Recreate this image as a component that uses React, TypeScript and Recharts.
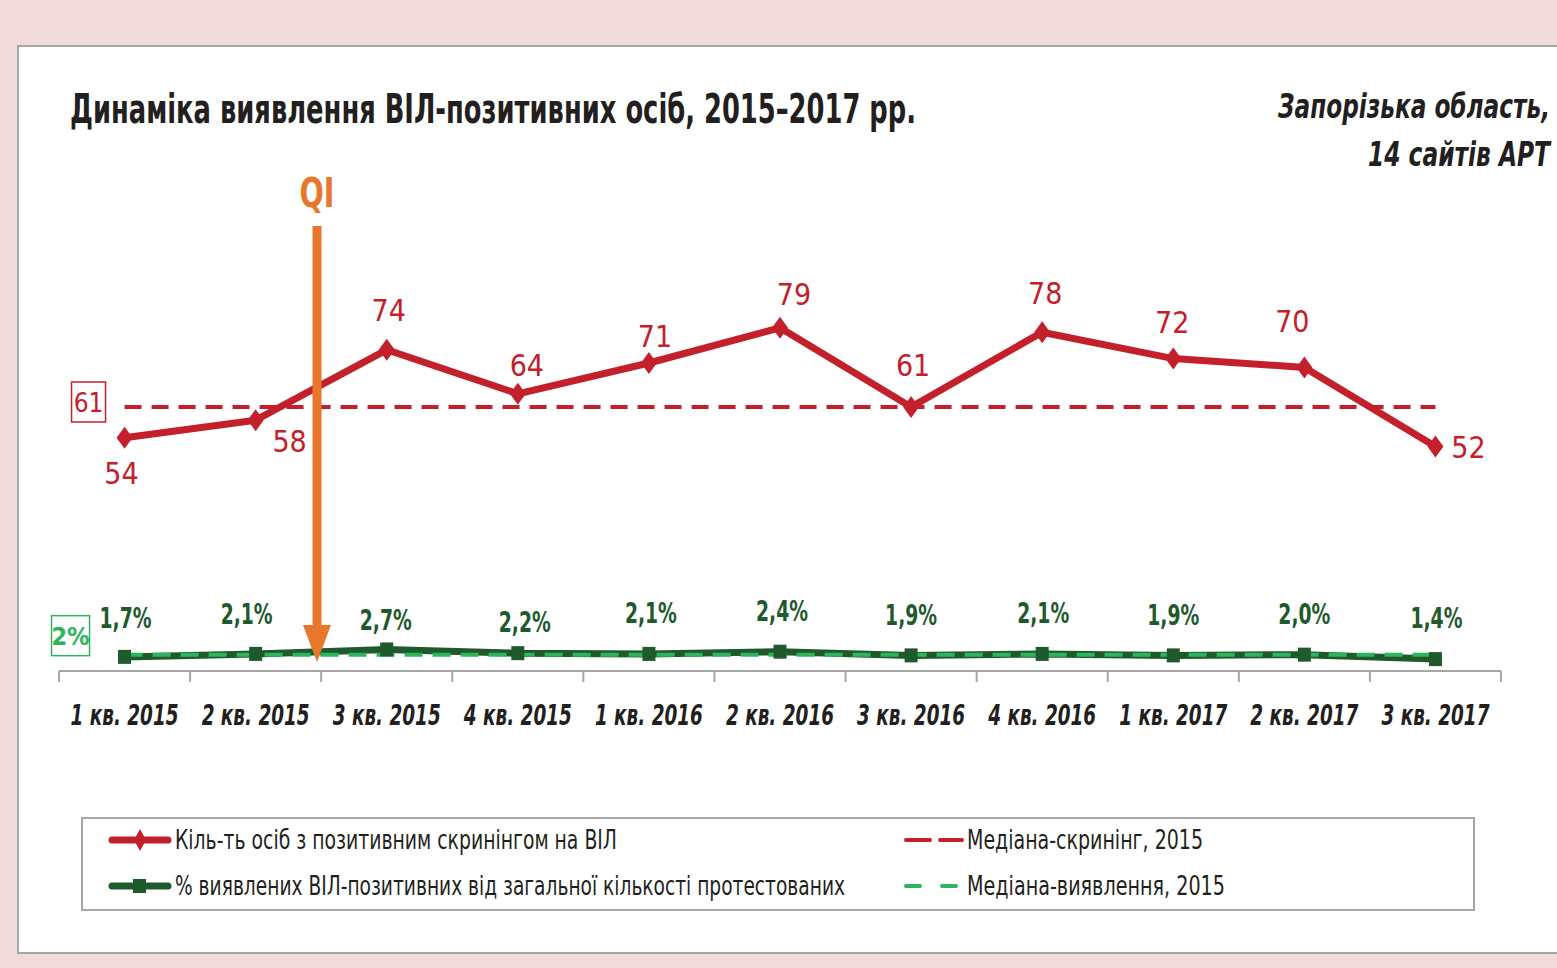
import React from "react";
import { ComposedChart, Line, XAxis, YAxis, LabelList } from "recharts";

const quarters = [
  "1 кв. 2015",
  "2 кв. 2015",
  "3 кв. 2015",
  "4 кв. 2015",
  "1 кв. 2016",
  "2 кв. 2016",
  "3 кв. 2016",
  "4 кв. 2016",
  "1 кв. 2017",
  "2 кв. 2017",
  "3 кв. 2017",
];
const screened = [54, 58, 74, 64, 71, 79, 61, 78, 72, 70, 52];
const detectedPct = [1.7, 2.1, 2.7, 2.2, 2.1, 2.4, 1.9, 2.1, 1.9, 2.0, 1.4];
const screenedMedian = 61;
const detectedMedian = 2;

const legendNames = [
  "Кіль-ть осіб з позитивним скринінгом на ВІЛ",
  "% виявлених ВІЛ-позитивних від загальної кількості протестованих",
  "Медіана-скринінг, 2015",
  "Медіана-виявлення, 2015",
];

const data = quarters.map((q, i) => ({
  quarter: q,
  screened: screened[i],
  pct: detectedPct[i],
  screenedMed: screenedMedian,
  pctMed: detectedMedian,
}));

// label placement, relative to point (label centre)
const redLabelOffset = [
  [-3, 36], [34, 21], [2, -39], [9, -28], [6, -27], [14, -33],
  [2, -42], [3, -39], [-1, -36], [-12, -46], [33, 1],
];
const greenLabelOffset = [
  [1, -39], [-9, -40], [-1, -29], [7, -31], [2, -41], [2, -41],
  [0, -40], [1, -41], [0, -40], [0, -41], [1, -41],
];

const RED = "#c4202b";
const DKGREEN = "#1e5a2c";
const LTGREEN = "#2db55d";
const ORANGE = "#e8762b";
const INK = "#231f20";
const FONT = "'Liberation Sans Narrow', 'DejaVu Sans Condensed', 'Arial Narrow', sans-serif";

const W = 1557;
const H = 968;
const M = { top: 231, right: 56, left: 59, bottom: 29 };
const XAXIS_H = 60;
const CH_H = 760;
const AXIS_Y = CH_H - M.bottom - XAXIS_H;
const BAND = (W - M.left - M.right) / quarters.length;

const Diamond = (p: any) => {
  const { cx, cy } = p;
  if (cx == null || cy == null) return null;
  return <polygon points={`${cx},${cy - 11} ${cx + 8},${cy} ${cx},${cy + 11} ${cx - 8},${cy}`} fill={RED} />;
};

const Square = (p: any) => {
  const { cx, cy } = p;
  if (cx == null || cy == null) return null;
  return <rect x={cx - 6.5} y={cy - 7} width={13} height={14} fill={DKGREEN} />;
};

const QuarterTick = (p: any) => {
  const { x, index, payload } = p;
  const last = index === quarters.length - 1;
  return (
    <g>
      <line x1={x - BAND / 2} x2={x - BAND / 2} y1={AXIS_Y} y2={AXIS_Y + 11} stroke="#a6a6a6" strokeWidth={2} />
      {last && <line x1={x + BAND / 2} x2={x + BAND / 2} y1={AXIS_Y} y2={AXIS_Y + 11} stroke="#a6a6a6" strokeWidth={2} />}
      <text
        x={x}
        y={AXIS_Y + 54}
        textAnchor="middle"
        fontFamily={FONT}
        fontSize={28}
        fontWeight="bold"
        fontStyle="italic"
        fill={INK}
        textLength={108}
        lengthAdjust="spacingAndGlyphs"
      >
        {payload.value}
      </text>
    </g>
  );
};

const redLabel = (p: any) => {
  const { x, y, index, value } = p;
  const [dx, dy] = redLabelOffset[index];
  return (
    <text x={x + dx} y={y + dy} textAnchor="middle" dominantBaseline="central" fontFamily={FONT} fontSize={30} fill={RED}>
      {value}
    </text>
  );
};

const greenLabel = (p: any) => {
  const { x, y, index, value } = p;
  const [dx, dy] = greenLabelOffset[index];
  return (
    <text
      x={x + dx}
      y={y + dy}
      textAnchor="middle"
      dominantBaseline="central"
      fontFamily={FONT}
      fontSize={29}
      fontWeight="bold"
      fill={DKGREEN}
      textLength={52}
      lengthAdjust="spacingAndGlyphs"
    >
      {value.toFixed(1).replace(".", ",") + "%"}
    </text>
  );
};

const redMedBox = (p: any) => {
  const { x, y, index, value } = p;
  if (index !== 0) return null;
  const cx = x - 36;
  const cy = y - 5;
  return (
    <g>
      <rect x={cx - 17} y={cy - 20} width={34} height={40} fill="#fff" stroke={RED} strokeWidth={1.5} />
      <text x={cx} y={cy + 1} textAnchor="middle" dominantBaseline="central" fontFamily={FONT} fontSize={26} fill={RED}>
        {value}
      </text>
    </g>
  );
};

const greenMedBox = (p: any) => {
  const { x, y, index, value } = p;
  if (index !== 0) return null;
  const cx = x - 54;
  const cy = y - 19;
  return (
    <g>
      <rect x={cx - 19} y={cy - 20} width={38} height={40} fill="#fff" stroke={LTGREEN} strokeWidth={1.5} />
      <text x={cx} y={cy + 1} textAnchor="middle" dominantBaseline="central" fontFamily={FONT} fontSize={25} fontWeight="bold" fill={LTGREEN}>
        {value + "%"}
      </text>
    </g>
  );
};

export default function App() {
  return (
    <div style={{ position: "absolute", left: 0, top: 0, width: W, height: H, background: "#f2dcdb", overflow: "hidden" }}>
      <div
        style={{
          position: "absolute",
          left: 17,
          top: 45,
          width: W,
          height: 905,
          background: "#fff",
          border: "2px solid #a6a6a6",
        }}
      />
      <div style={{ position: "absolute", left: 0, top: 0 }}>
        <ComposedChart width={W} height={CH_H} data={data} margin={M}>
          <XAxis
            dataKey="quarter"
            scale="band"
            height={XAXIS_H}
            axisLine={{ stroke: "#a6a6a6", strokeWidth: 2 }}
            tickLine={false}
            tick={<QuarterTick />}
            interval={0}
          />
          <YAxis yAxisId="left" domain={[1, 101]} allowDataOverflow hide />
          <YAxis yAxisId="right" orientation="right" domain={[-0.2, 59]} allowDataOverflow hide />
          <Line
            yAxisId="left"
            dataKey="screenedMed"
            stroke={RED}
            strokeWidth={4}
            strokeDasharray="17 10"
            dot={false}
            isAnimationActive={false}
          >
            <LabelList dataKey="screenedMed" content={redMedBox} />
          </Line>
          <Line
            yAxisId="left"
            dataKey="screened"
            stroke={RED}
            strokeWidth={7}
            dot={<Diamond />}
            isAnimationActive={false}
          >
            <LabelList dataKey="screened" content={redLabel} />
          </Line>
          <Line
            yAxisId="right"
            dataKey="pct"
            stroke={DKGREEN}
            strokeWidth={7}
            dot={<Square />}
            isAnimationActive={false}
          >
            <LabelList dataKey="pct" content={greenLabel} />
          </Line>
          <Line
            yAxisId="right"
            dataKey="pctMed"
            stroke={LTGREEN}
            strokeWidth={4}
            strokeDasharray="18 10"
            dot={false}
            isAnimationActive={false}
          >
            <LabelList dataKey="pctMed" content={greenMedBox} />
          </Line>
        </ComposedChart>
      </div>
      <svg width={W} height={H} style={{ position: "absolute", left: 0, top: 0, pointerEvents: "none" }}>
        <text x={70} y={123} fontFamily={FONT} fontSize={40} fontWeight="bold" fill={INK} textLength={846} lengthAdjust="spacingAndGlyphs">
          Динаміка виявлення ВІЛ-позитивних осіб, 2015–2017 рр.
        </text>
        <text x={1278} y={118} fontFamily={FONT} fontSize={33} fontWeight="bold" fontStyle="italic" fill={INK} textLength={272} lengthAdjust="spacingAndGlyphs">
          Запорізька область,
        </text>
        <text x={1368} y={166} fontFamily={FONT} fontSize={33} fontWeight="bold" fontStyle="italic" fill={INK} textLength={182} lengthAdjust="spacingAndGlyphs">
          14 сайтів АРТ
        </text>
        <text x={317} y={207} textAnchor="middle" fontFamily={FONT} fontSize={40} fontWeight="bold" fill={ORANGE} textLength={35} lengthAdjust="spacingAndGlyphs">
          QI
        </text>
        <line x1={317} x2={317} y1={226} y2={630} stroke={ORANGE} strokeWidth={9} />
        <polygon points="303,625 331,625 317,662" fill={ORANGE} />

        <rect x={82} y={818} width={1392} height={92} fill="#fff" stroke="#a6a6a6" strokeWidth={2} />
        <line x1={112} x2={168} y1={840} y2={840} stroke={RED} strokeWidth={7} strokeLinecap="round" />
        <polygon points="140,829 146,840 140,851 134,840" fill={RED} />
        <text x={175} y={840} dominantBaseline="central" fontFamily={FONT} fontSize={26} fill={INK} textLength={442} lengthAdjust="spacingAndGlyphs">
          {legendNames[0]}
        </text>
        <line x1={112} x2={168} y1={886} y2={886} stroke={DKGREEN} strokeWidth={7} strokeLinecap="round" />
        <rect x={133} y={879} width={13} height={14} fill={DKGREEN} />
        <text x={175} y={886} dominantBaseline="central" fontFamily={FONT} fontSize={26} fill={INK} textLength={670} lengthAdjust="spacingAndGlyphs">
          {legendNames[1]}
        </text>
        <line x1={906} x2={962} y1={840} y2={840} stroke={RED} strokeWidth={4} strokeDasharray="24 10" strokeLinecap="round" />
        <text x={967} y={840} dominantBaseline="central" fontFamily={FONT} fontSize={26} fill={INK} textLength={236} lengthAdjust="spacingAndGlyphs">
          {legendNames[2]}
        </text>
        <line x1={906} x2={962} y1={886} y2={886} stroke={LTGREEN} strokeWidth={4} strokeDasharray="14 22" strokeLinecap="round" />
        <text x={967} y={886} dominantBaseline="central" fontFamily={FONT} fontSize={26} fill={INK} textLength={258} lengthAdjust="spacingAndGlyphs">
          {legendNames[3]}
        </text>
      </svg>
    </div>
  );
}
